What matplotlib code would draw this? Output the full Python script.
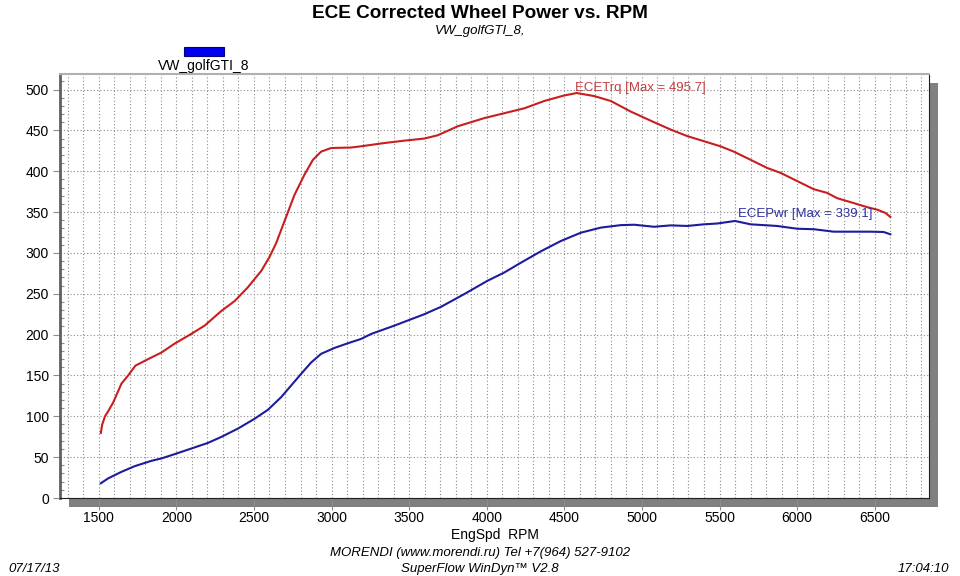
"""
ECE corrected wheel power / torque vs RPM (dyno sheet style)
"""

import matplotlib.pyplot as plt
from matplotlib.patches import Rectangle
from matplotlib.ticker import MultipleLocator

plt.rcParams["font.family"] = ["Liberation Sans", "DejaVu Sans"]

# torque curve (ECETrq)
trq_rpm = [1513, 1522, 1540, 1560, 1593, 1646, 1689, 1736, 1818, 1903, 1989, 2097, 2182,
           2290, 2375, 2461, 2547, 2600, 2643, 2697, 2761, 2826, 2880, 2933, 2997,
           3126, 3190, 3340, 3469, 3598, 3684, 3813, 3984, 4113, 4242, 4371, 4499,
           4580, 4692, 4799, 4928, 5078, 5185, 5292, 5378, 5506, 5592, 5700, 5807,
           5893, 6000, 6107, 6193, 6258, 6365, 6451, 6515, 6569, 6601]
trq_val = [79.6, 90, 100, 106, 117, 140, 150, 162, 170, 178, 189, 201, 211,
           229, 241, 258, 278, 295, 312, 339, 371, 396, 414, 424, 428.4,
           429, 430.5, 434.5, 437.4, 440, 444, 455, 465, 471, 477, 486, 492.7,
           495.7, 492, 486, 473, 460, 451, 443, 438, 430.5, 424, 414, 404,
           398, 388, 378, 373.5, 367, 361, 356, 353, 349, 344]

# power curve (ECEPwr)
pwr_rpm = [1513, 1560, 1646, 1732, 1839, 1903, 1989, 2097, 2204, 2290, 2397, 2504,
           2590, 2676, 2740, 2804, 2869, 2933, 3019, 3105, 3190, 3255, 3405, 3598,
           3705, 3855, 4006, 4113, 4220, 4349, 4478, 4607, 4736, 4864, 4950, 5078,
           5185, 5292, 5400, 5486, 5600, 5700, 5871, 6000, 6107, 6236, 6365, 6472,
           6558, 6601]
pwr_val = [18, 24, 32, 39, 45.5, 48.4, 53.7, 60.6, 67.5, 74.8, 85, 97,
           108, 123.6, 137.8, 152, 166, 176.5, 183.7, 189.4, 194.7, 200.8, 211, 225,
           234, 249.6, 266, 276, 288, 302, 314.6, 324.8, 331, 334, 334.5, 332,
           333.7, 333, 335, 336, 339.1, 335, 333, 329.6, 329, 326, 326, 326,
           325.6, 322.8]

trq_label = "ECETrq [Max = 495.7]"
pwr_label = "ECEPwr [Max = 339.1]"
run_name = "VW_golfGTI_8"

W, H = 960, 576
fig = plt.figure(figsize=(W / 100, H / 100), dpi=100)
ax_l, ax_r, ax_t, ax_b = 60, 929, 74, 498
ax = fig.add_axes([ax_l / W, 1 - ax_b / H, (ax_r - ax_l) / W, (ax_b - ax_t) / H])

# drop shadow behind the plot box
shadow = Rectangle(((ax_l + 9) / W, 1 - (ax_b + 9) / H), (ax_r - ax_l) / W, (ax_b - ax_t) / H,
                   transform=fig.transFigure, facecolor="#808080", edgecolor="none", zorder=0)
fig.patches.append(shadow)
ax.set_zorder(1)
ax.set_facecolor("white")

ax.plot(trq_rpm, trq_val, color="#c81e1e", lw=1.5, zorder=3)
ax.plot(pwr_rpm, pwr_val, color="#1c1c9c", lw=1.5, zorder=3)

ax.text(4567, 495, trq_label, color="#c04040", fontsize=9.5, ha="left", va="bottom")
ax.text(5622, 340.5, pwr_label, color="#3030a0", fontsize=9.5, ha="left", va="bottom")

ax.set_xlim(1250, 6850)
ax.set_ylim(0, 519)
ax.xaxis.set_major_locator(MultipleLocator(500))
ax.xaxis.set_minor_locator(MultipleLocator(100))
ax.yaxis.set_major_locator(MultipleLocator(50))
ax.yaxis.set_minor_locator(MultipleLocator(10))

grid_style = dict(color="#8c8c8c", linestyle=(0, (1, 2)), linewidth=0.8)
ax.grid(True, which="major", **grid_style)
ax.grid(True, which="minor", axis="x", **grid_style)

ax.tick_params(axis="x", which="major", direction="out", length=8.5, width=0.8,
               color="#8c8c8c", labelsize=10, pad=0.5)
ax.tick_params(axis="x", which="minor", length=0)
ax.tick_params(axis="y", which="major", direction="out", length=5, width=0.8,
               color="#8c8c8c", labelsize=10, pad=3)
ax.tick_params(axis="y", which="minor", direction="in", length=3, width=0.8, color="#8c8c8c")

ax.spines["left"].set_color("#606060")
ax.spines["left"].set_linewidth(2)
ax.spines["top"].set_color("#b0b0b0")
ax.spines["top"].set_linewidth(1.5)
ax.spines["right"].set_color("#202020")
ax.spines["bottom"].set_color("#202020")

ax.set_xlabel("EngSpd  RPM", fontsize=10, labelpad=2.5)

# header
fig.text(0.5, 1 - 14 / H, "ECE Corrected Wheel Power vs. RPM", ha="center", va="center",
         fontsize=13.7, fontweight="bold")
fig.text(0.5, 1 - 31 / H, run_name + ",", ha="center", va="center", fontsize=9.5, style="italic")

# legend swatch
fig.patches.append(Rectangle((184 / W, 1 - 56 / H), 40 / W, 9 / H, transform=fig.transFigure,
                             facecolor="#0000ee", edgecolor="#000080", lw=0.8))
fig.text(204 / W, 1 - 66 / H, run_name, ha="center", va="center", fontsize=10)

# footer
fig.text(0.5, 1 - 553 / H, "MORENDI (www.morendi.ru) Tel +7(964) 527-9102", ha="center",
         va="center", fontsize=9.5, style="italic")
fig.text(0.5, 1 - 569 / H, "SuperFlow WinDyn\u2122 V2.8", ha="center", va="center",
         fontsize=9.5, style="italic")
fig.text(8 / W, 1 - 569 / H, "07/17/13", ha="left", va="center", fontsize=9.5, style="italic")
fig.text(949 / W, 1 - 569 / H, "17:04:10", ha="right", va="center", fontsize=9.5, style="italic")

fig.savefig("out.png", dpi=100)
